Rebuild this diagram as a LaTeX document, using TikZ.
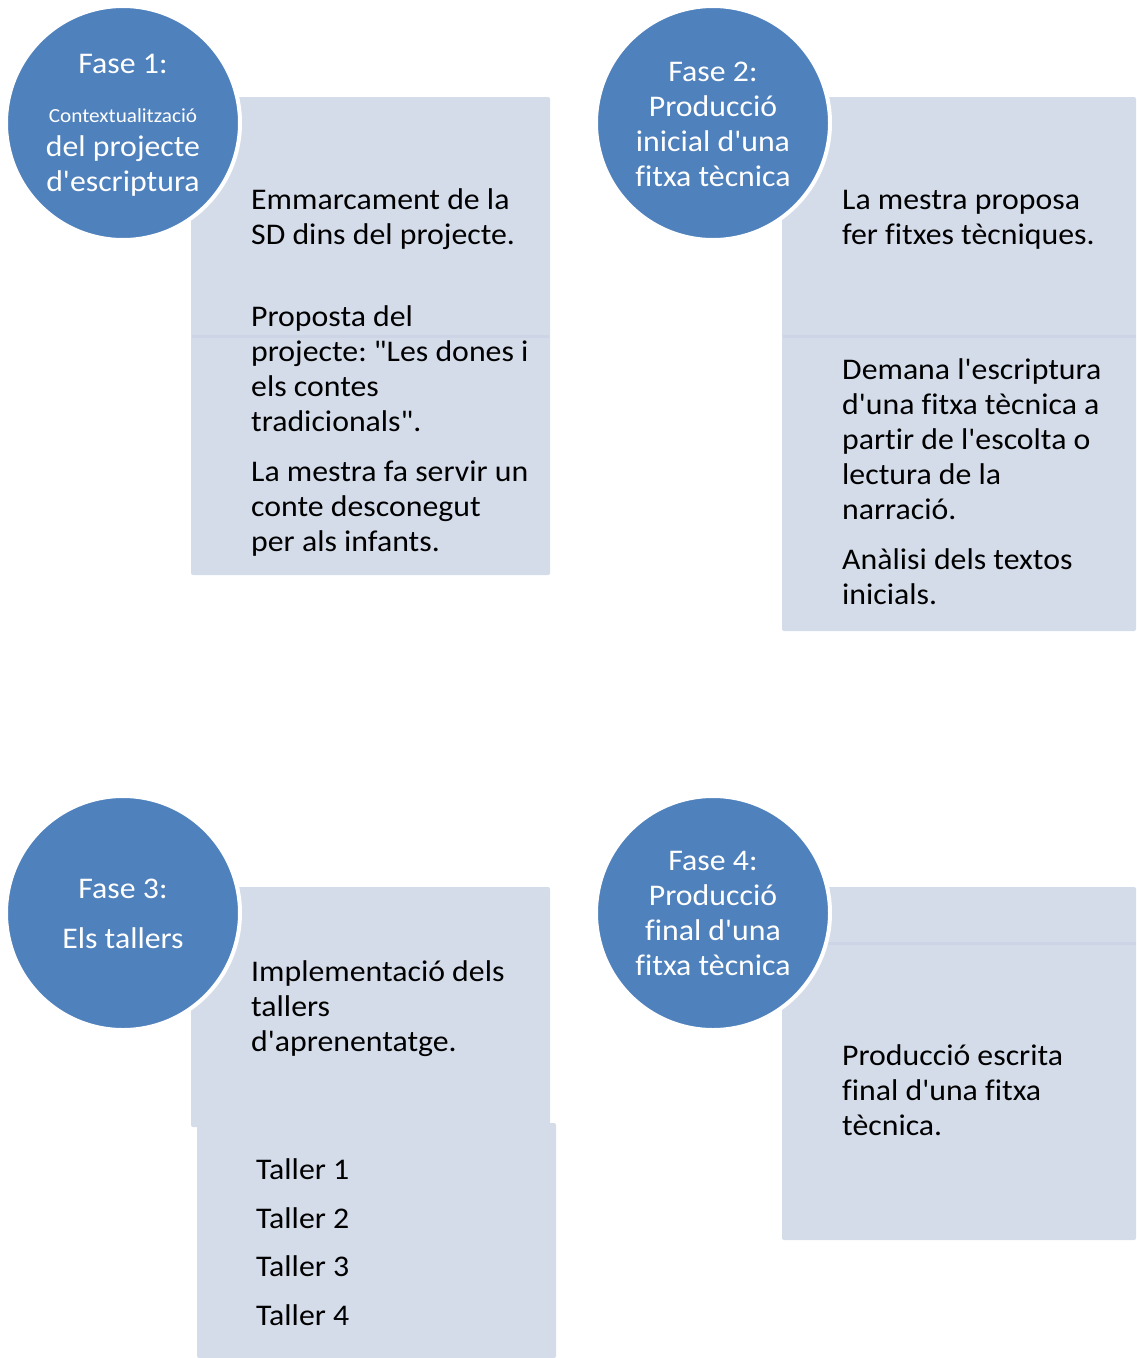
\documentclass[tikz,border=0pt]{standalone}
\usepackage{fontspec}
\setmainfont{Carlito}[Ligatures={TeXOff,NoCommon},FakeStretch=1.06]
\frenchspacing
\definecolor{phase}{HTML}{4F81BD}
\definecolor{boxfill}{HTML}{D4DCEA}
\definecolor{divline}{HTML}{CCD4E5}
\begin{document}
\begin{tikzpicture}[x=1pt,y=-1pt,
  panel/.style={fill=boxfill,draw=none,rounded corners=2pt},
  phasec/.style={circle,fill=phase,draw=white,line width=4pt,minimum size=234pt,inner sep=0pt},
  ctext/.style={text=white,font=\fontsize{30}{35}\selectfont,align=center,anchor=center},
  btext/.style={text=black,font=\fontsize{30}{35}\selectfont,align=left,anchor=north west,inner sep=0pt},
  divider/.style={draw=divline,line width=3pt}]
\useasboundingbox (0,0) rectangle (1136,1358);
% panels
\path[panel] (191,97) rectangle (550,575);
\draw[divider] (192,336) -- (549,336);
\path[panel] (782,97) rectangle (1136,631);
\draw[divider] (783,336) -- (1136,336);
\path[panel] (191,887) rectangle (550,1127);
\path[panel] (197,1123) rectangle (556,1358);
\path[panel] (782,887) rectangle (1136,1240);
\draw[divider] (783,943) -- (1136,943);
% circles
\node[phasec] (c1) at (123,123) {};
\node[phasec] (c2) at (713,123) {};
\node[phasec] (c3) at (123,913) {};
\node[phasec] (c4) at (713,913) {};
% circle texts
\node[ctext] (t1a) at (123,64) {Fase 1:};
\node[ctext,font=\fontsize{20}{22}\selectfont] (t1b) at (123,116) {Contextualització};
\node[ctext] (t1c) at (123,166) {del projecte\\d'escriptura};
\node[ctext] (t2) at (713,124) {Fase 2:\\Producció\\inicial d'una\\fitxa tècnica};
\node[ctext] (t3a) at (123,889) {Fase 3:};
\node[ctext] (t3b) at (123,938) {Els tallers};
\node[ctext] (t4) at (713,913) {Fase 4:\\Producció\\final d'una\\fitxa tècnica};
% panel texts
\node[btext] (b1a) at (251,185) {\strut Emmarcament de la\\SD dins del projecte.};
\node[btext] (b1b) at (251,302) {\strut Proposta del\\projecte: "Les dones i\\els contes\\tradicionals".};
\node[btext] (b1c) at (251,457) {\strut La mestra fa servir un\\conte desconegut\\per als infants.};
\node[btext] (b2a) at (842,185) {\strut La mestra proposa\\fer fitxes tècniques.};
\node[btext] (b2b) at (842,355) {\strut Demana l'escriptura\\d'una fitxa tècnica a\\partir de l'escolta o\\lectura de la\\narració.};
\node[btext] (b2c) at (842,545) {\strut Anàlisi dels textos\\inicials.};
\node[btext] (b3a) at (251,957) {\strut Implementació dels\\tallers\\d'aprenentatge.};
\node[btext] (w1) at (256,1155) {\strut Taller 1};
\node[btext] (w2) at (256,1204) {\strut Taller 2};
\node[btext] (w3) at (256,1252) {\strut Taller 3};
\node[btext] (w4) at (256,1301) {\strut Taller 4};
\node[btext] (b4a) at (842,1041) {\strut Producció escrita\\final d'una fitxa\\tècnica.};
\end{tikzpicture}
\end{document}
